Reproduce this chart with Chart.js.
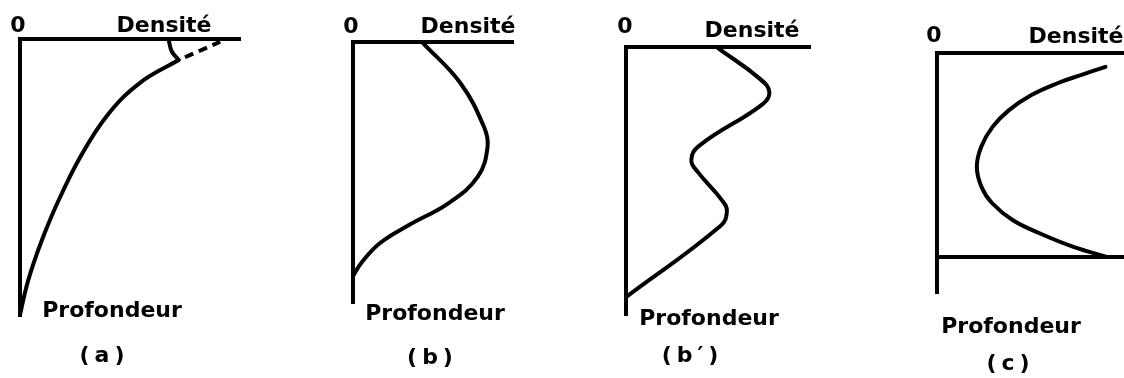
<!DOCTYPE html>
<html>
<head>
<meta charset="utf-8">
<script src="https://cdn.jsdelivr.net/npm/chart.js@4"></script>
<style>
  html, body { margin: 0; padding: 0; background: #fff; }
  body { width: 1124px; height: 378px; position: relative; overflow: hidden; }
  .panel { position: absolute; top: 0; height: 378px; }
</style>
</head>
<body>
<div class="panel" style="left:0;width:280px"><canvas id="pa"></canvas></div>
<div class="panel" style="left:280px;width:280px"><canvas id="pb"></canvas></div>
<div class="panel" style="left:560px;width:284px"><canvas id="pb2"></canvas></div>
<div class="panel" style="left:844px;width:280px"><canvas id="pc"></canvas></div>
<script>
// axis texts
const axisZero = '0';
const axisDensity = 'Densité';
const axisDepth = 'Profondeur';
const captions = ['(a)', '(b)', '(b′)', '(c)'];

// (a) density decreasing with depth, surface hook and dashed extrapolation
const densA  = [7.21, 5.44, 3.98, 2.74, 1.7, 1.05, 0.62, 0.29, 0];
const depthA = [0.76, 1.59, 2.74, 4.26, 5.92, 7.15, 8.09, 8.95, 9.96];
const densAHook  = [6.77, 6.9, 7.21];
const depthAHook = [0.08, 0.45, 0.76];
const densADash  = [7.5, 9.1];
const depthADash = [0.66, 0.1];

// (b) single maximum
const densB  = [4.38, 6.71, 8.19, 8.41, 7.79, 5.98, 3.5, 1.69, 0.56, 0];
const depthB = [0.04, 1.57, 3.26, 4.02, 5.17, 6.17, 7.01, 7.7, 8.43, 8.97];

// (b') two maxima
const densB2  = [5.0, 7.28, 7.79, 7.43, 3.97, 3.55, 3.9, 5.25, 5.48, 5.13, 0];
const depthB2 = [0.04, 1.19, 1.68, 2.13, 3.69, 4.22, 4.66, 5.75, 6.16, 6.68, 9.33];

// (c) minimum at mid depth, bounded layer
const densC  = [9.01, 7.69, 6.47, 5.05, 3.85, 2.97, 2.36, 2.13, 2.38, 2.94, 4.04, 5.45, 7.3, 9.08];
const depthC = [0.58, 0.92, 1.25, 1.75, 2.38, 3.08, 3.92, 4.75, 5.58, 6.25, 6.96, 7.5, 8.08, 8.5];
const densCBase  = [0, 10];
const depthCBase = [8.5, 8.5];

const pts = (xs, ys) => xs.map((x, i) => ({ x: x, y: ys[i] }));

const ink = '#000';
const labelFont = 'bold 22px "DejaVu Sans"';

const textPlugin = {
  id: 'panelText',
  afterDraw(chart) {
    const t = chart.options.plugins.panelText;
    const ctx = chart.ctx;
    ctx.save();
    ctx.fillStyle = ink;
    ctx.font = labelFont;
    ctx.textAlign = 'center';
    ctx.textBaseline = 'alphabetic';
    ctx.fillText(axisZero, t.zero[0], t.zero[1]);
    ctx.fillText(axisDensity, t.dens[0], t.dens[1]);
    ctx.fillText(axisDepth, t.prof[0], t.prof[1]);
    ctx.letterSpacing = '5px';
    ctx.fillText(t.caption, t.cap[0] + 2.5, t.cap[1]);
    ctx.restore();
  }
};

function makePanel(id, panelLeft, panelWidth, area, datasets, text) {
  const axisCommon = {
    type: 'linear',
    min: 0,
    max: 10,
    grid: { display: false },
    ticks: { display: false },
    border: { display: true, color: ink, width: 4 }
  };
  new Chart(document.getElementById(id), {
    type: 'scatter',
    data: { datasets: datasets },
    options: {
      responsive: true,
      maintainAspectRatio: false,
      animation: false,
      layout: {
        padding: {
          left: area.l - panelLeft,
          right: panelLeft + panelWidth - area.r,
          top: area.t,
          bottom: 378 - area.b
        }
      },
      scales: {
        x: Object.assign({}, axisCommon, { position: 'top', afterFit: s => { s.height = 0; } }),
        y: Object.assign({}, axisCommon, { reverse: true, afterFit: s => { s.width = 0; } })
      },
      plugins: {
        legend: { display: false },
        tooltip: { enabled: false },
        panelText: {
          zero: [text.zero[0] - panelLeft, text.zero[1]],
          dens: [text.dens[0] - panelLeft, text.dens[1]],
          prof: [text.prof[0] - panelLeft, text.prof[1]],
          cap: [text.cap[0] - panelLeft, text.cap[1]],
          caption: text.caption
        }
      }
    },
    plugins: [textPlugin]
  });
}

const curve = (data, extra) => Object.assign({
  data: data,
  showLine: true,
  borderColor: ink,
  borderWidth: 4,
  pointRadius: 0,
  tension: 0.4,
  capBezierPoints: false,
  borderCapStyle: 'round',
  borderJoinStyle: 'round',
  clip: false
}, extra || {});

makePanel('pa', 0, 280, { l: 20, t: 39, r: 240, b: 316 }, [
  curve(pts(densA, depthA)),
  curve(pts(densAHook, depthAHook)),
  curve(pts(densADash, depthADash), { borderDash: [9, 6], borderCapStyle: 'butt', tension: 0 })
], { zero: [18, 32], dens: [164, 32], prof: [112, 317], cap: [102, 362], caption: captions[0] });

makePanel('pb', 280, 280, { l: 353, t: 42, r: 513, b: 303 }, [
  curve(pts(densB, depthB))
], { zero: [351, 33], dens: [468, 33], prof: [435, 320], cap: [430, 364], caption: captions[1] });

makePanel('pb2', 560, 284, { l: 626, t: 47, r: 810, b: 315 }, [
  curve(pts(densB2, depthB2), { tension: 0.45 })
], { zero: [625, 33], dens: [752, 37], prof: [709, 325], cap: [690, 362], caption: captions[2] });

makePanel('pc', 844, 280, { l: 937, t: 53, r: 1124, b: 293 }, [
  curve(pts(densC, depthC)),
  curve(pts(densCBase, depthCBase), { tension: 0 })
], { zero: [934, 42], dens: [1076, 43], prof: [1011, 333], cap: [1008, 370], caption: captions[3] });
</script>
</body>
</html>
